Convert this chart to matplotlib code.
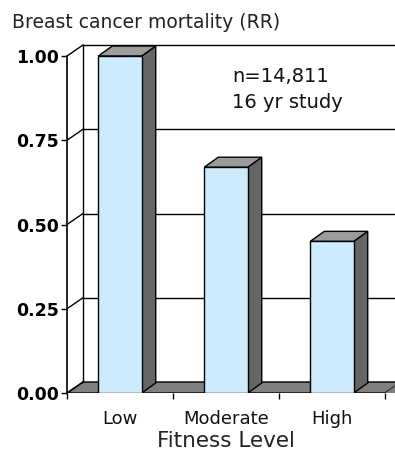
import matplotlib
matplotlib.use("Agg")
import matplotlib.pyplot as plt
from matplotlib.patches import Polygon

categories = ["Low", "Moderate", "High"]
values = [1.00, 0.67, 0.45]
yticks = [0.00, 0.25, 0.50, 0.75, 1.00]
ytick_labels = ["0.00", "0.25", "0.50", "0.75", "1.00"]
title_text = "Breast cancer mortality (RR)"
xlabel_text = "Fitness Level"
note_lines = ["n=14,811", "16 yr study"]

W, H = 395, 454
fig = plt.figure(figsize=(W / 100, H / 100), dpi=100)
fig.patch.set_facecolor("white")

# axes geometry in pixels
x0_px, xr_px = 67, 395
y0_px, ytop_px = 393, 40
px_per_x = 106.0
px_per_y = 337.0
ax = fig.add_axes([x0_px / W, (H - y0_px) / H, (xr_px - x0_px) / W, (y0_px - ytop_px) / H])
ax.set_xlim(0, (xr_px - x0_px) / px_per_x)
ax.set_ylim(0, (y0_px - ytop_px) / px_per_y)
ax.set_facecolor("white")
for s in ax.spines.values():
    s.set_visible(False)

n = len(categories)
dx, dy = 16 / px_per_x, 11 / px_per_y          # wall depth
bdx, bdy = 14 / px_per_x, 10 / px_per_y        # bar depth
bw = 0.41
xmax_back = 10

lc = "black"
# floor
ax.add_patch(Polygon([(0, 0), (n, 0), (n + dx, dy), (dx, dy)], closed=True,
                     facecolor="#808080", edgecolor=lc, lw=1, zorder=1))
ax.add_patch(Polygon([(n, 0), (xmax_back, 0), (xmax_back, dy), (n + dx, dy)], closed=True,
                     facecolor="#808080", edgecolor="none", lw=0, zorder=1))
# back wall gridlines and side wall diagonals
for t in yticks:
    if t > 0:
        ax.plot([dx, xmax_back], [t + dy, t + dy], color=lc, lw=1, zorder=1)
    ax.plot([0, dx], [t, t + dy], color=lc, lw=1, zorder=1)
# back wall left edge
ax.plot([dx, dx], [dy, max(yticks) + dy], color=lc, lw=1, zorder=1)
# front axis line
ax.plot([0, 0], [0, max(yticks)], color=lc, lw=1.2, zorder=5, clip_on=False)

front_c = "#CDEBFF"
side_c = "#666666"
top_c = "#9C9C9C"
for i, v in enumerate(values):
    c = i + 0.5
    l, r = c - bw / 2, c + bw / 2
    ax.add_patch(Polygon([(r, 0), (r + bdx, bdy), (r + bdx, v + bdy), (r, v)], closed=True,
                         facecolor=side_c, edgecolor=lc, lw=1, zorder=3))
    ax.add_patch(Polygon([(l, v), (r, v), (r + bdx, v + bdy), (l + bdx, v + bdy)], closed=True,
                         facecolor=top_c, edgecolor=lc, lw=1, zorder=3))
    ax.add_patch(Polygon([(l, 0), (r, 0), (r, v), (l, v)], closed=True,
                         facecolor=front_c, edgecolor=lc, lw=1, zorder=4))

# y ticks
ax.set_yticks(yticks)
ax.set_yticklabels(ytick_labels, fontsize=12.5, fontweight="bold", family="DejaVu Sans")
ax.tick_params(axis="y", direction="out", length=4, width=1, pad=2, color=lc)
# x ticks
ax.set_xticks(range(0, n + 1))
ax.set_xticklabels([""] * (n + 1))
ax.set_xticks([i + 0.5 for i in range(n)], minor=True)
ax.set_xticklabels(categories, minor=True, fontsize=13, color="#111111")
ax.tick_params(axis="x", which="major", direction="out", length=4, width=1, color=lc)
ax.tick_params(axis="x", which="minor", length=0, pad=12)

fig.text(12 / W, 1 - 28 / H, title_text, fontsize=13.5, color="#222222", ha="left", va="baseline")
fig.text(226 / W, 1 - 447 / H, xlabel_text, fontsize=15.5, color="#222222", ha="center", va="baseline")
fig.text(232 / W, 1 - 82 / H, note_lines[0], fontsize=14, color="#111111", ha="left", va="baseline")
fig.text(232 / W, 1 - 108 / H, note_lines[1], fontsize=14, color="#111111", ha="left", va="baseline")

fig.savefig("out.png", dpi=100, facecolor="white")
